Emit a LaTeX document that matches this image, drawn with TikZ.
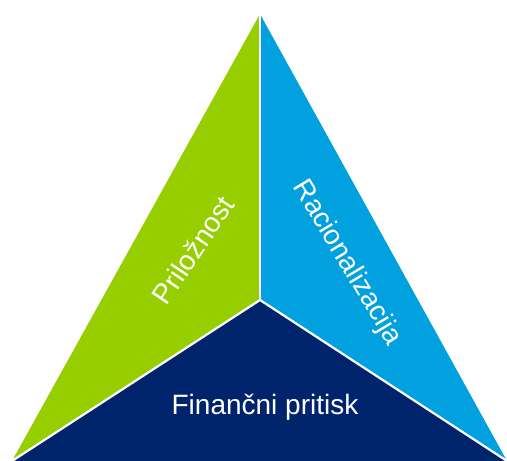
\documentclass[tikz,border=0pt]{standalone}
\usepackage{fontspec}
\setmainfont{Liberation Sans}
\usepackage{tikz}
\usetikzlibrary{positioning}
\definecolor{fraudGreen}{RGB}{150,206,0}
\definecolor{fraudBlue}{RGB}{0,161,222}
\definecolor{fraudNavy}{RGB}{0,36,108}

\begin{document}
\begin{tikzpicture}[x=1pt, y=-1pt]
    \useasboundingbox (0,0) rectangle (507,461);

    % corners of the triangle and its middle point
    \coordinate (apex) at (260,14);
    \coordinate (left) at (12,461);
    \coordinate (right) at (507,461);
    \coordinate (mid) at (260,300);

    % three coloured parts
    \fill[fraudGreen] (apex) -- (left) -- (mid) -- cycle;
    \fill[fraudBlue] (apex) -- (mid) -- (right) -- cycle;
    \fill[fraudNavy] (mid) -- (left) -- (right) -- cycle;

    % white seams
    \draw[white, line width=2.2pt] (apex) -- (mid);
    \draw[white, line width=2.2pt] (left) -- (mid) -- (right);

    % labels
    \node[white, font=\fontsize{28}{32}\selectfont, rotate=56] (opportunity) at (193,250) {Priložnost};
    \node[white, font=\fontsize{28}{32}\selectfont, rotate=-59] (rationalization) at (347,263) {Racionalizacija};
    \node[white, font=\fontsize{28}{32}\selectfont] (pressure) at (265,407) {Finančni pritisk};
\end{tikzpicture}
\end{document}
